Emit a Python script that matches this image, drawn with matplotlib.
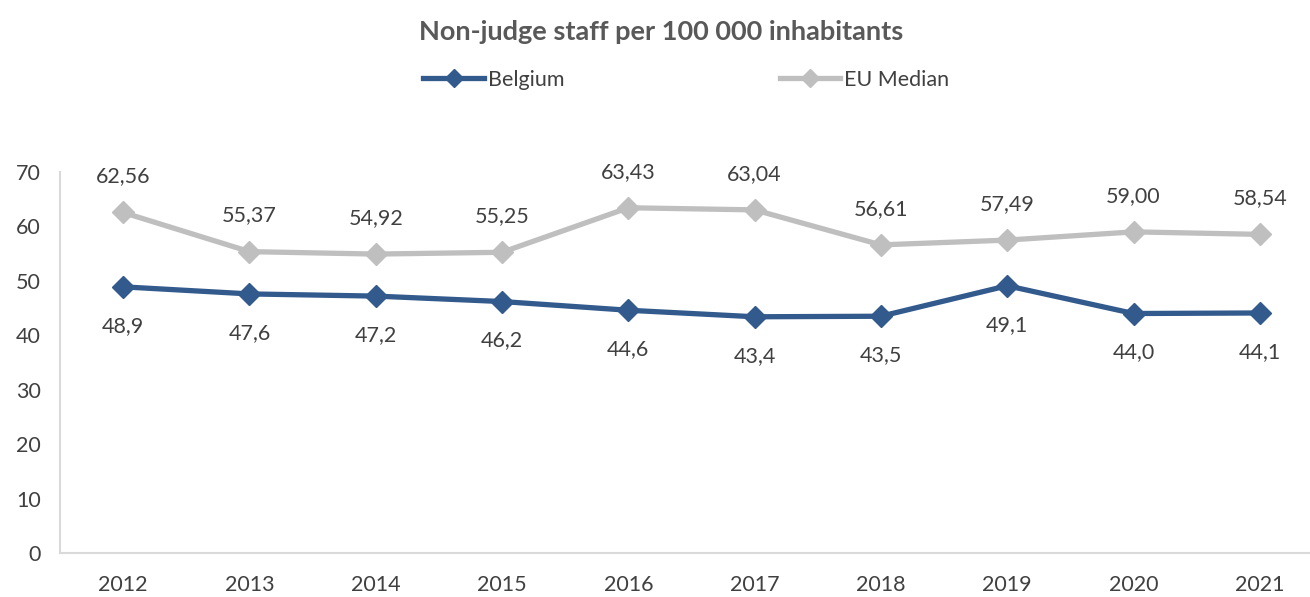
import matplotlib
matplotlib.use("Agg")
import matplotlib.pyplot as plt
from matplotlib.lines import Line2D

plt.rcParams['font.family'] = ['Lato', 'DejaVu Sans']

years = ["2012", "2013", "2014", "2015", "2016", "2017", "2018", "2019", "2020", "2021"]
belgium = [48.9, 47.6, 47.2, 46.2, 44.6, 43.4, 43.5, 49.1, 44.0, 44.1]
eu_median = [62.56, 55.37, 54.92, 55.25, 63.43, 63.04, 56.61, 57.49, 59.00, 58.54]
belgium_labels = ["48,9", "47,6", "47,2", "46,2", "44,6", "43,4", "43,5", "49,1", "44,0", "44,1"]
eu_labels = ["62,56", "55,37", "54,92", "55,25", "63,43", "63,04", "56,61", "57,49", "59,00", "58,54"]

c_be = "#335A8C"
c_eu = "#BFBFBF"
txt = "#404040"

fig = plt.figure(figsize=(13.10, 5.97), dpi=100)
ax = fig.add_axes([60/1310, 1-553/597, 1263/1310, 381/597])
x = list(range(len(years)))

ax.plot(x, eu_median, color=c_eu, lw=3.8, marker='D', ms=11, zorder=3)
ax.plot(x, belgium, color=c_be, lw=3.8, marker='D', ms=11, zorder=3)

for i in x:
    ax.annotate(eu_labels[i], (i, eu_median[i]), xytext=(0, 26), textcoords='offset points',
                ha='center', va='center', fontsize=15.5, color=txt)
    ax.annotate(belgium_labels[i], (i, belgium[i]), xytext=(0, -28), textcoords='offset points',
                ha='center', va='center', fontsize=15.5, color=txt)

ax.set_xlim(-0.5, 9.5)
ax.set_ylim(0, 70)
ax.set_yticks(range(0, 71, 10))
ax.set_xticks(x)
ax.set_xticklabels(years)
ax.tick_params(axis='both', length=0, labelsize=15.5, labelcolor=txt)
ax.tick_params(axis='y', pad=14)
ax.tick_params(axis='x', pad=16)
for s in ['top', 'right']:
    ax.spines[s].set_visible(False)
for s in ['left', 'bottom']:
    ax.spines[s].set_color("#D9D9D9")
    ax.spines[s].set_linewidth(1.5)

fig.text(0.505, 1-32/597, "Non-judge staff per 100 000 inhabitants", ha='center', va='center',
         fontsize=19.5, fontweight='bold', color="#595959")

handles = [Line2D([], [], color=c_be, lw=3.8, marker='D', ms=9),
           Line2D([], [], color=c_eu, lw=3.8, marker='D', ms=9)]
fig.legend(handles, ["Belgium", "EU Median"], loc='center', bbox_to_anchor=(0.524, 1-80/597),
           ncol=2, frameon=False, fontsize=15.5, handlelength=2.8, handletextpad=0.2,
           columnspacing=10, labelcolor=txt)

fig.savefig("out.png", dpi=100)
